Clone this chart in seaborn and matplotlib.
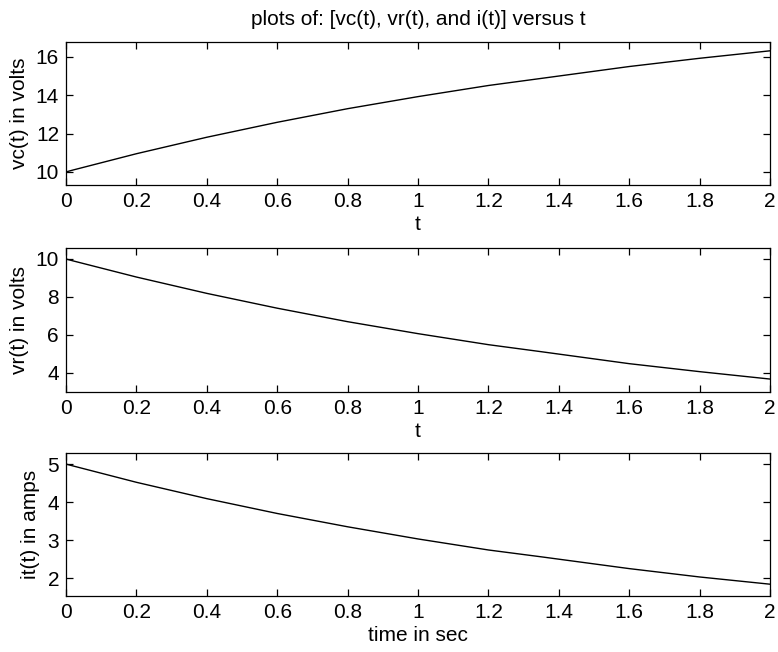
import numpy as np
import pandas as pd
import seaborn as sns
import matplotlib
matplotlib.use("Agg")
import matplotlib.pyplot as plt
from matplotlib.ticker import FuncFormatter

# values (solver output points)
t = [0.0, 0.02, 0.2, 0.4, 0.6, 0.8, 1.0, 1.2, 1.35, 1.6, 1.8, 2.0]
vc = [10.0, 10.1, 10.95, 11.81, 12.59, 13.30, 13.93, 14.51, 14.88, 15.50, 15.93, 16.32]
vr = [10.0, 9.9, 9.05, 8.19, 7.41, 6.70, 6.07, 5.49, 5.12, 4.49, 4.07, 3.68]
it = [5.0, 4.95, 4.52, 4.09, 3.70, 3.35, 3.03, 2.74, 2.56, 2.25, 2.03, 1.84]

xticks = np.arange(0, 2.01, 0.2)
yticks_vc = [10, 12, 14, 16]
yticks_vr = [4, 6, 8, 10]
yticks_it = [2, 3, 4, 5]

df = pd.DataFrame({"t": t, "vc": vc, "vr": vr, "it": it})

sns.set_style("ticks")
plt.rcParams["font.family"] = ["Liberation Sans", "DejaVu Sans"]
plt.rcParams["font.size"] = 15
plt.rcParams["text.color"] = "black"
plt.rcParams["axes.labelcolor"] = "black"
plt.rcParams["xtick.color"] = "black"
plt.rcParams["ytick.color"] = "black"
plt.rcParams["xtick.direction"] = "in"
plt.rcParams["ytick.direction"] = "in"
plt.rcParams["xtick.major.size"] = 5
plt.rcParams["ytick.major.size"] = 5
plt.rcParams["axes.linewidth"] = 0.9

fig = plt.figure(figsize=(7.78, 6.52), dpi=100)
ax1 = fig.add_axes([0.0848, 0.7163, 0.905, 0.2193])
ax2 = fig.add_axes([0.0848, 0.3988, 0.905, 0.2209])
ax3 = fig.add_axes([0.0848, 0.0859, 0.905, 0.2193])

panels = [
    (ax1, "vc", "vc(t) in volts", "t", yticks_vc, (9.32, 16.78)),
    (ax2, "vr", "vr(t) in volts", "t", yticks_vr, (3.0, 10.58)),
    (ax3, "it", "it(t) in amps", "time in sec", yticks_it, (1.53, 5.29)),
]

fmt = FuncFormatter(lambda v, p: "%g" % round(v, 2))

for ax, col, ylab, xlab, yt, ylim in panels:
    sns.lineplot(data=df, x="t", y=col, ax=ax, color="black", linewidth=1.0)
    ax.set_xlim(0, 2)
    ax.set_ylim(*ylim)
    ax.set_xticks(xticks)
    ax.set_yticks(yt)
    ax.xaxis.set_major_formatter(fmt)
    ax.tick_params(top=True, right=True, labelsize=15, pad=5, width=0.9,
                   colors="black")
    ax.set_ylabel(ylab, fontsize=15, labelpad=5, color="black")
    ax.set_xlabel(xlab, fontsize=15, labelpad=3, color="black")
    for s in ax.spines.values():
        s.set_visible(True)
        s.set_color("black")

ax1.set_title("plots of: [vc(t), vr(t), and i(t)] versus t", fontsize=15,
              pad=12, color="black")

fig.savefig("out.png", dpi=100)
